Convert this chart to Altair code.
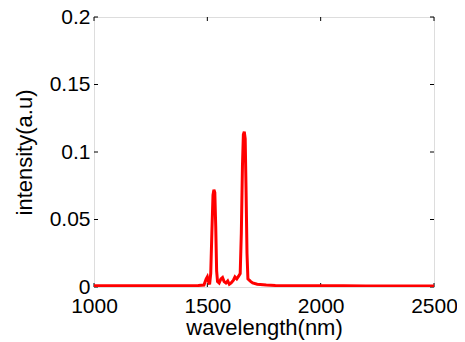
import altair as alt
import pandas as pd

wavelength = [1000, 1100, 1200, 1300, 1400, 1460, 1485, 1495, 1500, 1505, 1510,
              1515, 1520, 1525, 1529, 1533, 1537, 1541, 1545, 1552, 1560, 1567,
              1574, 1582, 1590, 1597, 1605, 1615, 1622, 1630, 1638, 1645, 1650,
              1655, 1659, 1663, 1667, 1671, 1675, 1679, 1685, 1692, 1700, 1720,
              1760, 1800, 1900, 2000, 2100, 2200, 2300, 2400, 2500]
intensity = [0.0010, 0.0010, 0.0009, 0.0010, 0.0010, 0.0011, 0.0015, 0.0060, 0.0075, 0.0040, 0.0020,
             0.0100, 0.0400, 0.0680, 0.0720, 0.0700, 0.0450, 0.0120, 0.0040, 0.0030, 0.0060, 0.0070,
             0.0040, 0.0030, 0.0045, 0.0020, 0.0030, 0.0050, 0.0075, 0.0060, 0.0080, 0.0100, 0.0400,
             0.0900, 0.1130, 0.1150, 0.1100, 0.0700, 0.0250, 0.0060, 0.0050, 0.0040, 0.0030, 0.0020,
             0.0015, 0.0012, 0.0010, 0.0010, 0.0009, 0.0008, 0.0008, 0.0008, 0.0008]

x_ticks = [1000, 1500, 2000, 2500]
y_ticks = [0, 0.05, 0.1, 0.15, 0.2]

W, H = 340, 270
FONT = "Liberation Sans"

df = pd.DataFrame({"wavelength": wavelength, "intensity": intensity})
xt = pd.DataFrame({"t": x_ticks})
yt = pd.DataFrame({"t": y_ticks})

xscale = alt.Scale(domain=[1000, 2500], nice=False, zero=False)
yscale = alt.Scale(domain=[0, 0.2], nice=False, zero=False)

line = alt.Chart(df).mark_line(color="#ff0000", strokeWidth=3, clip=True).encode(
    x=alt.X("wavelength:Q", scale=xscale,
            axis=alt.Axis(title="wavelength(nm)", values=x_ticks, format="d", ticks=False,
                          tickSize=0, domain=False, grid=False, labelFont=FONT,
                          labelFontSize=21, labelColor="black", labelBaseline="alphabetic",
                          labelPadding=25, titleFont=FONT, titleFontSize=22,
                          titleFontWeight="normal", titleColor="black",
                          titleBaseline="alphabetic", titleY=47, labelFlush=False)),
    y=alt.Y("intensity:Q", scale=yscale,
            axis=alt.Axis(title="intensity(a.u)", values=y_ticks, format="~g", ticks=False,
                          tickSize=0, domain=False, grid=False, labelFont=FONT,
                          labelFontSize=21, labelColor="black", labelPadding=4,
                          titleFont=FONT, titleFontSize=22, titleFontWeight="normal",
                          titleColor="black", titleBaseline="alphabetic", titleX=-63,
                          labelFlush=False)),
)

bx = alt.Chart(xt).mark_rule(color="black", strokeWidth=1).encode(
    x=alt.X("t:Q", scale=xscale), y=alt.value(H), y2=alt.value(H - 4))
tx = alt.Chart(xt).mark_rule(color="black", strokeWidth=1).encode(
    x=alt.X("t:Q", scale=xscale), y=alt.value(0), y2=alt.value(4))
ly = alt.Chart(yt).mark_rule(color="black", strokeWidth=1).encode(
    y=alt.Y("t:Q", scale=yscale), x=alt.value(0), x2=alt.value(4))
ry = alt.Chart(yt).mark_rule(color="black", strokeWidth=1).encode(
    y=alt.Y("t:Q", scale=yscale), x=alt.value(W), x2=alt.value(W - 4))

chart = alt.layer(bx, tx, ly, ry, line).properties(
    width=W, height=H,
    autosize=alt.AutoSizeParams(type="none"),
    padding={"left": 86, "top": 9, "right": 23, "bottom": 54},
).configure_view(stroke="black", strokeWidth=1).configure(background="white")

chart.save("out.html", embed_options={"renderer": "svg", "actions": False})
